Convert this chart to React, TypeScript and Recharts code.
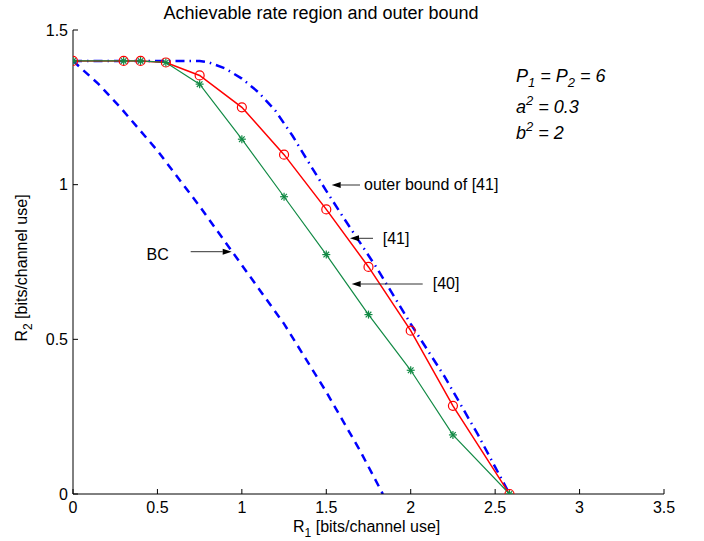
import React from 'react';
import { LineChart, Line, XAxis, YAxis } from 'recharts';

// axis ticks
const xTicks = [0, 0.5, 1, 1.5, 2, 2.5, 3, 3.5];
const yTicks = [0, 0.5, 1, 1.5];

// achievable rate regions ([41] red circles, [40] green stars)
const r1Points = [0, 0.3, 0.4, 0.55, 0.75, 1, 1.25, 1.5, 1.75, 2, 2.25, 2.585];
const ref41R2 = [1.4, 1.4, 1.4, 1.395, 1.353, 1.25, 1.097, 0.92, 0.734, 0.528, 0.285, 0];
const ref40R2 = [1.4, 1.4, 1.4, 1.395, 1.325, 1.147, 0.961, 0.774, 0.58, 0.4, 0.191, 0];

// outer bound of [41]
const outerR1 = [0, 0.25, 0.5, 0.75, 0.8, 0.9, 1.0, 1.1, 1.2, 1.3, 1.4, 1.5, 1.6, 1.8, 2.0, 2.2, 2.4, 2.585];
const outerR2 = [1.4, 1.4, 1.4, 1.4, 1.396, 1.376, 1.343, 1.298, 1.238, 1.158, 1.068, 0.98, 0.895, 0.73, 0.55, 0.38, 0.19, 0];

// broadcast channel
const bcR1 = [0, 0.15, 0.28, 0.5, 0.75, 1.0, 1.25, 1.5, 1.7, 1.835];
const bcR2 = [1.4, 1.326, 1.25, 1.11, 0.93, 0.74, 0.55, 0.33, 0.14, 0];

const zip = (xs: number[], ys: number[]) => xs.map((x, i) => ({ x, y: ys[i] }));

const red41 = zip(r1Points, ref41R2);
const green40 = zip(r1Points, ref40R2);
const outer = zip(outerR1, outerR2);
const bc = zip(bcR1, bcR2);

const FONT = '"Liberation Sans", Arial, Helvetica, sans-serif';
const GREEN = '#128a45';
const RED = '#ff0000';
const BLUE = '#0000ff';

const Star = (props: any) => {
  const { cx, cy, index } = props;
  if (cx == null || cy == null) return null;
  const r = 4;
  const d = r * 0.7071;
  return (
    <g key={`star-${index}`} stroke={GREEN} strokeWidth={1.2}>
      <line x1={cx - r} y1={cy} x2={cx + r} y2={cy} />
      <line x1={cx} y1={cy - r} x2={cx} y2={cy + r} />
      <line x1={cx - d} y1={cy - d} x2={cx + d} y2={cy + d} />
      <line x1={cx - d} y1={cy + d} x2={cx + d} y2={cy - d} />
    </g>
  );
};

const Arrow = ({ x1, x2, y }: { x1: number; x2: number; y: number }) => {
  const dir = x2 > x1 ? 1 : -1;
  const len = 9;
  return (
    <g>
      <line x1={x1} y1={y} x2={x2 - dir * len} y2={y} stroke="#333" strokeWidth={1} />
      <polygon points={`${x2},${y} ${x2 - dir * len},${y - 3} ${x2 - dir * len},${y + 3}`} fill="#000" />
    </g>
  );
};

const Overlay = () => (
  <svg width={704} height={541} style={{ position: 'absolute', left: 0, top: 0, pointerEvents: 'none' }}>
    <g fontFamily={FONT} fill="#000">
      <text x={321} y={18.5} fontSize={18} textAnchor="middle">Achievable rate region and outer bound</text>

      <text x={293} y={532} fontSize={16}>
        R<tspan fontSize={12} dy={5}>1</tspan><tspan dy={-5}> [bits/channel use]</tspan>
      </text>
      <text transform="translate(27,268) rotate(-90)" fontSize={16} textAnchor="middle">
        R<tspan fontSize={12} dy={5}>2</tspan><tspan dy={-5}> [bits/channel use]</tspan>
      </text>

      <g fontSize={18} fontStyle="italic">
        <text x={516} y={81.7}>
          P<tspan fontSize={13} dy={5}>1</tspan><tspan dy={-5}> = P</tspan><tspan fontSize={13} dy={5}>2</tspan><tspan dy={-5}> = 6</tspan>
        </text>
        <text x={516} y={113.3}>
          a<tspan fontSize={13} dy={-8}>2</tspan><tspan dy={8}> = 0.3</tspan>
        </text>
        <text x={516} y={139.3}>
          b<tspan fontSize={13} dy={-8}>2</tspan><tspan dy={8}> = 2</tspan>
        </text>
      </g>

      <g fontSize={16}>
        <text x={364} y={190}>outer bound of [41]</text>
        <text x={382.7} y={244}>[41]</text>
        <text x={432.7} y={289}>[40]</text>
        <text x={146.5} y={260}>BC</text>
      </g>
    </g>
    <Arrow x1={360} x2={331.7} y={185} />
    <Arrow x1={373} x2={350} y={238.3} />
    <Arrow x1={422.7} x2={351.7} y={284} />
    <Arrow x1={190.7} x2={231.7} y={251.7} />
  </svg>
);

const tickStyle = { fontSize: 16, fill: '#000', fontFamily: FONT };

export default function App() {
  return (
    <div style={{ position: 'absolute', left: 0, top: 0, width: 704, height: 541, background: '#fff' }}>
      <LineChart width={704} height={541} margin={{ top: 30, right: 40, bottom: 0, left: 0 }}>
        <XAxis
          xAxisId={0}
          type="number"
          dataKey="x"
          domain={[0, 3.5]}
          ticks={xTicks}
          allowDataOverflow
          height={47}
          tickSize={-5}
          tickMargin={13}
          tick={tickStyle}
          stroke="#000"
          axisLine={{ stroke: '#000' }}
          tickLine={{ stroke: '#000' }}
        />
        <XAxis
          xAxisId="top"
          orientation="top"
          type="number"
          dataKey="x"
          domain={[0, 3.5]}
          ticks={xTicks}
          allowDataOverflow
          height={0}
          tickSize={-5}
          tick={false}
          axisLine={{ stroke: '#000' }}
          tickLine={{ stroke: '#000' }}
        />
        <YAxis
          yAxisId={0}
          type="number"
          domain={[0, 1.5]}
          ticks={yTicks}
          allowDataOverflow
          width={73}
          tickSize={-5}
          tickMargin={10}
          tick={tickStyle}
          axisLine={{ stroke: '#000' }}
          tickLine={{ stroke: '#000' }}
        />
        <YAxis
          yAxisId="right"
          orientation="right"
          type="number"
          domain={[0, 1.5]}
          ticks={yTicks}
          allowDataOverflow
          width={0}
          tickSize={-5}
          tick={false}
          axisLine={{ stroke: '#000' }}
          tickLine={{ stroke: '#000' }}
        />
        <Line
          data={outer}
          dataKey="y"
          type="linear"
          stroke={BLUE}
          strokeWidth={2.5}
          strokeDasharray="9 5 1.5 5"
          dot={false}
          isAnimationActive={false}
        />
        <Line
          data={bc}
          dataKey="y"
          type="linear"
          stroke={BLUE}
          strokeWidth={2.5}
          strokeDasharray="8 6"
          dot={false}
          isAnimationActive={false}
        />
        <Line
          data={red41}
          dataKey="y"
          type="linear"
          stroke={RED}
          strokeWidth={1.5}
          dot={{ r: 4.5, stroke: RED, fill: 'none', strokeWidth: 1.2 }}
          isAnimationActive={false}
        />
        <Line
          data={green40}
          dataKey="y"
          type="linear"
          stroke={GREEN}
          strokeWidth={1.2}
          dot={<Star />}
          isAnimationActive={false}
        />
      </LineChart>
      <Overlay />
    </div>
  );
}
